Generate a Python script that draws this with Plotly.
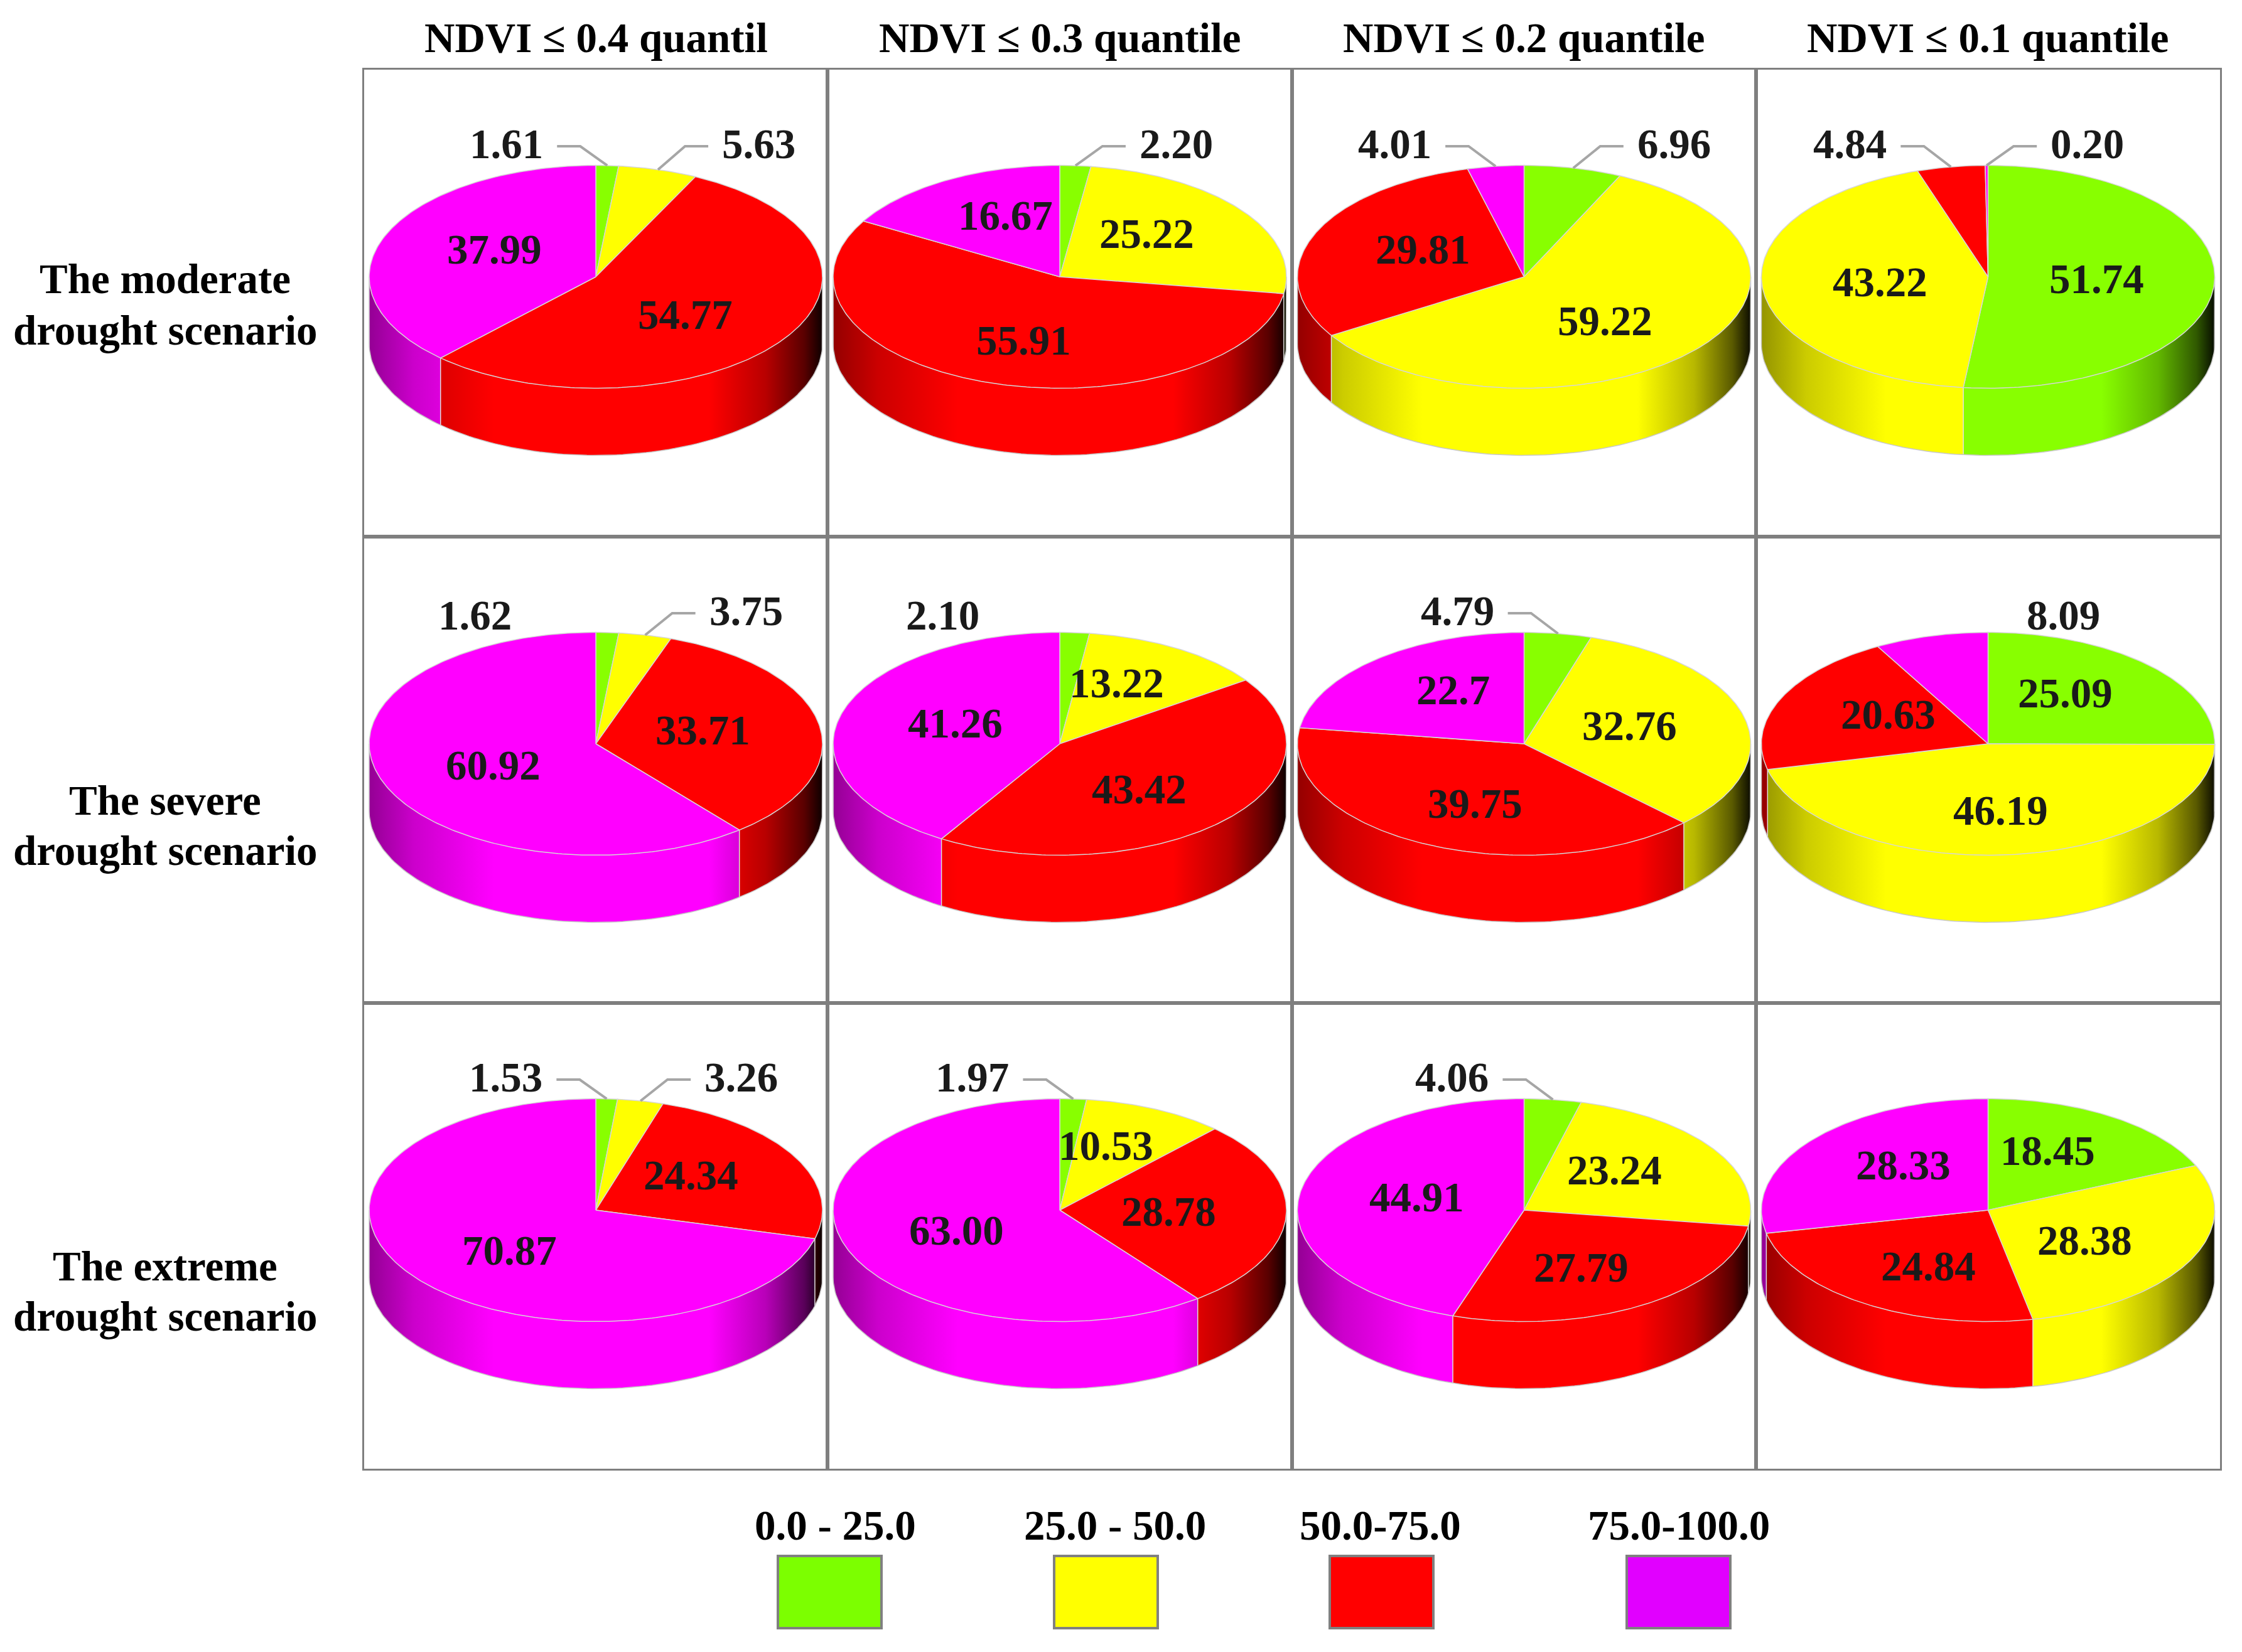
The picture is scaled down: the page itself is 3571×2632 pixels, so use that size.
import numpy as np
import plotly.graph_objects as go

# Share of area (%) in each NDVI class, per drought scenario (rows) and
# NDVI quantile threshold (columns). Slice order follows CLASS_LABELS.
ROW_LABELS = [["The moderate", "drought scenario"],
              ["The severe", "drought scenario"],
              ["The extreme", "drought scenario"]]
COL_LABELS = ["NDVI ≤ 0.4 quantil", "NDVI ≤ 0.3 quantile",
              "NDVI ≤ 0.2 quantile", "NDVI ≤ 0.1 quantile"]
CLASS_LABELS = ["0.0 - 25.0", "25.0 - 50.0", "50.0-75.0", "75.0-100.0"]

# values kept as printed on the chart
moderate = [["1.61", "5.63", "54.77", "37.99"],
            ["2.20", "25.22", "55.91", "16.67"],
            ["6.96", "59.22", "29.81", "4.01"],
            ["51.74", "43.22", "4.84", "0.20"]]
severe = [["1.62", "3.75", "33.71", "60.92"],
          ["2.10", "13.22", "43.42", "41.26"],
          ["4.79", "32.76", "39.75", "22.7"],
          ["25.09", "46.19", "20.63", "8.09"]]
extreme = [["1.53", "3.26", "24.34", "70.87"],
           ["1.97", "10.53", "28.78", "63.00"],
           ["4.06", "23.24", "27.79", "44.91"],
           ["18.45", "28.38", "24.84", "28.33"]]
scenarios = [moderate, severe, extreme]

COLORS = ["#88FF00", "#FFFF00", "#FF0000", "#FF00FF"]
LEGEND_COLORS = ["#7CFF00", "#FFFF00", "#FF0000", "#E100FF"]

# which side small-slice labels go to (upper case = with leader line)
OUTSIDE_SIDE = {
    (0, 0, 0): "L", (0, 0, 1): "R", (0, 1, 0): "R",
    (0, 2, 3): "L", (0, 2, 0): "R", (0, 3, 2): "L", (0, 3, 3): "R",
    (1, 0, 0): "l", (1, 0, 1): "R", (1, 1, 0): "l", (1, 2, 0): "L",
    (1, 3, 3): "r",
    (2, 0, 0): "L", (2, 0, 1): "R", (2, 1, 0): "L", (2, 2, 0): "L",
}

W, H = 3571, 2632
OFF = 8   # page margin of the browser
COL_EDGES = [580, 1318, 2058, 2797, 3536]
ROW_EDGES = [111, 855, 1598, 2340]
A, B, DEPTH, CY = 361, 177.5, 107, 330   # pie geometry in pixels
FONT = "Liberation Serif, Times New Roman, serif"
FS = 67

# wall lighting against screen x (-1 left edge, 1 right edge)
LIGHT_X = [-1, -0.8, -0.45, 0.5, 0.75, 0.92, 1.0]
LIGHT_V = [0.58, 0.8, 1.0, 1.0, 0.72, 0.35, 0.05]


def px(x):
    return (x - OFF) / W


def py(y):
    return 1 - (y - OFF) / H


def shade(col, s):
    col = col.lstrip("#")
    rgb = [int(col[i:i + 2], 16) for i in (0, 2, 4)]
    return "rgb({},{},{})".format(*[int(round(v * s)) for v in rgb])


def wall_scale(col):
    return [[(x + 1) / 2, shade(col, v)] for x, v in zip(LIGHT_X, LIGHT_V)]


fig = go.Figure()
annotations = []

for r, cells in enumerate(scenarios):
    for c, cell in enumerate(cells):
        n = r * 4 + c + 1
        sfx = "" if n == 1 else str(n)
        xa, ya = "x" + sfx, "y" + sfx
        cw = COL_EDGES[c + 1] - COL_EDGES[c]
        ch = ROW_EDGES[r + 1] - ROW_EDGES[r]
        axis_style = dict(showgrid=False, zeroline=False, showticklabels=False,
                          ticks="", showline=True, mirror=True,
                          linecolor="#7f7f7f", linewidth=3, fixedrange=True)
        fig.layout["xaxis" + sfx] = dict(
            domain=[px(COL_EDGES[c]), px(COL_EDGES[c + 1])],
            range=[-cw / 2, cw / 2], anchor=ya, **axis_style)
        fig.layout["yaxis" + sfx] = dict(
            domain=[py(ROW_EDGES[r + 1]), py(ROW_EDGES[r])],
            range=[-(ch - CY), CY], anchor=xa, **axis_style)

        vals = np.array([float(v) for v in cell])
        edges = np.concatenate([[0], np.cumsum(vals / vals.sum())]) * 2 * np.pi

        # side wall, front half only, one gradient-filled piece per slice
        for k in range(4):
            lo = max(edges[k], np.pi / 2)
            hi = min(edges[k + 1], 3 * np.pi / 2)
            if hi <= lo:
                continue
            tt = np.linspace(lo, hi, max(4, int(np.degrees(hi - lo)) + 2))
            x = A * np.sin(tt)
            y = B * np.cos(tt)
            fig.add_trace(go.Scatter(
                x=np.concatenate([x, x[::-1], [x[0]]]),
                y=np.concatenate([y, y[::-1] - DEPTH, [y[0]]]),
                fill="toself", mode="lines",
                fillgradient=dict(type="horizontal", start=-A, stop=A,
                                  colorscale=wall_scale(COLORS[k])),
                line=dict(color="rgba(0,0,0,0)", width=0),
                hoverinfo="skip", showlegend=False, xaxis=xa, yaxis=ya))

        # slice seams on the wall
        for e in edges[1:-1]:
            if np.pi / 2 < e < 3 * np.pi / 2:
                ex, ey = A * np.sin(e), B * np.cos(e)
                fig.add_trace(go.Scatter(
                    x=[ex, ex], y=[ey, ey - DEPTH], mode="lines",
                    line=dict(color="#e0e0e0", width=1.5),
                    hoverinfo="skip", showlegend=False, xaxis=xa, yaxis=ya))

        # outline of the cylinder bottom
        tb = np.linspace(np.pi / 2, 3 * np.pi / 2, 120)
        fig.add_trace(go.Scatter(
            x=np.concatenate([[A], A * np.sin(tb), [-A]]),
            y=np.concatenate([[0], B * np.cos(tb) - DEPTH, [0]]),
            mode="lines", line=dict(color="#c8c8c8", width=1.5),
            hoverinfo="skip", showlegend=False, xaxis=xa, yaxis=ya))

        # top face
        for k in range(4):
            npts = max(3, int(np.degrees(edges[k + 1] - edges[k])) + 2)
            tt = np.linspace(edges[k], edges[k + 1], npts)
            fig.add_trace(go.Scatter(
                x=np.concatenate([[0], A * np.sin(tt), [0]]),
                y=np.concatenate([[0], B * np.cos(tt), [0]]),
                fill="toself", fillcolor=COLORS[k], mode="lines",
                line=dict(color="#d6d6d6", width=1.5),
                hoverinfo="skip", showlegend=False, xaxis=xa, yaxis=ya))

        # value labels
        for k in range(4):
            mid = (edges[k] + edges[k + 1]) / 2
            font = dict(family=FONT, size=FS, color="#1a1a1a", weight="bold")
            if vals[k] >= 9:
                annotations.append(dict(
                    x=0.48 * A * np.sin(mid), y=0.62 * B * np.cos(mid) + 3,
                    xref=xa, yref=ya, text=cell[k], showarrow=False,
                    xanchor="center", yanchor="middle", font=font))
                continue
            side_code = OUTSIDE_SIDE.get((r, c, k), "R")
            s = -1 if side_code.upper() == "L" else 1
            ax0, ay0 = A * np.sin(mid), B * np.cos(mid)
            if side_code.isupper():
                fig.add_trace(go.Scatter(
                    x=[ax0, ax0 + s * 43, ax0 + s * 80], y=[ay0, 208, 208],
                    mode="lines", line=dict(color="#a6a6a6", width=4),
                    hoverinfo="skip", showlegend=False, xaxis=xa, yaxis=ya))
                tx, ty = ax0 + s * 100, 212
            else:
                tx, ty = ax0 + s * 150, 205
            annotations.append(dict(
                x=tx, y=ty, xref=xa, yref=ya, text=cell[k],
                xanchor="right" if s < 0 else "left", yanchor="middle",
                showarrow=False, font=font))

title_font = dict(family=FONT, size=FS, color="black", weight="bold")

# column titles
for c, lab in enumerate(COL_LABELS):
    annotations.append(dict(
        x=px((COL_EDGES[c] + COL_EDGES[c + 1]) / 2), y=py(60),
        xref="paper", yref="paper", text=lab, showarrow=False,
        xanchor="center", yanchor="middle", font=title_font))

# row titles, two lines each
row_line_y = [[444, 526], [1275, 1355], [2017, 2097]]
for r, lines in enumerate(ROW_LABELS):
    for line, yy in zip(lines, row_line_y[r]):
        annotations.append(dict(
            x=px(263), y=py(yy), xref="paper", yref="paper", text=line,
            showarrow=False, xanchor="center", yanchor="middle",
            font=title_font))

# legend: colour boxes with class labels above
shapes = []
box_x = [1239, 1679, 2118, 2591]
label_x = [1330, 1776, 2198, 2674]
for i, lab in enumerate(CLASS_LABELS):
    shapes.append(dict(
        type="rect", xref="paper", yref="paper",
        x0=px(box_x[i]), x1=px(box_x[i] + 165),
        y0=py(2594), y1=py(2479),
        fillcolor=LEGEND_COLORS[i], line=dict(color="#808080", width=4)))
    annotations.append(dict(
        x=px(label_x[i]), y=py(2430), xref="paper", yref="paper",
        text=lab, showarrow=False, xanchor="center", yanchor="middle",
        font=title_font))

fig.update_layout(
    width=W, height=H,
    margin=dict(l=0, r=0, t=0, b=0),
    paper_bgcolor="white", plot_bgcolor="white",
    showlegend=False,
    annotations=annotations,
    shapes=shapes,
)

fig.write_html("out.html")
